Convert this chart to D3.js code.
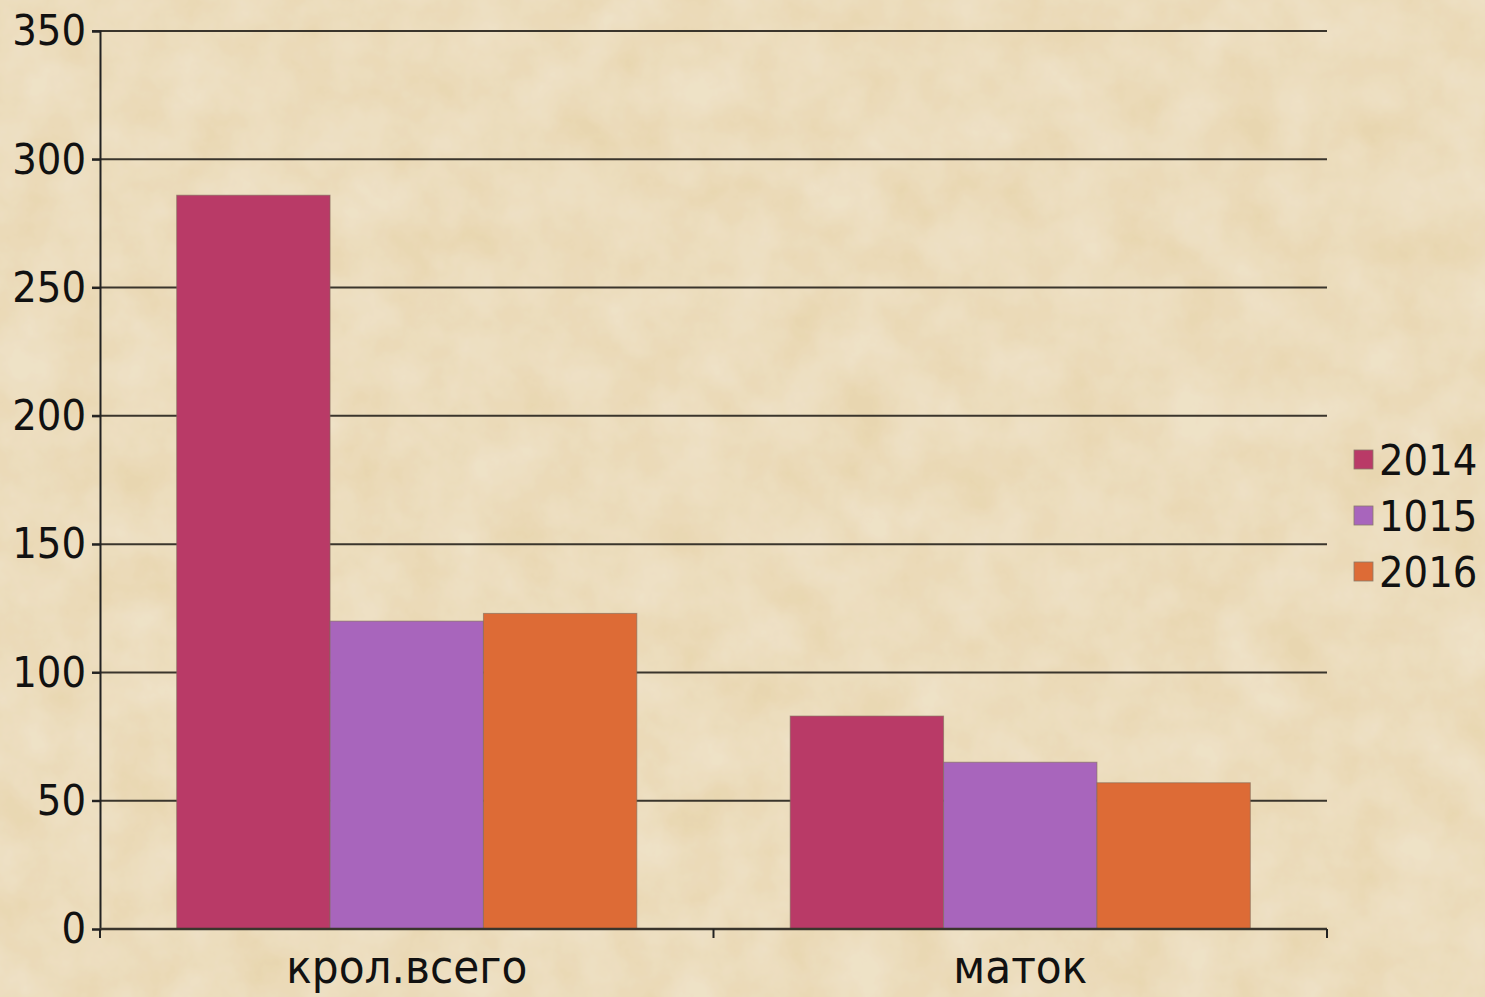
<!DOCTYPE html>
<html><head><meta charset="utf-8">
<script src="https://cdn.jsdelivr.net/npm/d3@7"></script>
<style>html,body{margin:0;padding:0;background:#ead9b6;overflow:hidden}</style>
</head><body>
<script>
const categories = ["крол.всего", "маток"];
const seriesNames = ["2014", "1015", "2016"];
const values2014 = [286, 83];
const values1015 = [120, 65];
const values2016 = [123, 57];
const yTicks = [0, 50, 100, 150, 200, 250, 300, 350];
const colors = ["#b93a67", "#a865bc", "#dd6b36"];

const W = 1485, H = 997;
const margin = {left: 100, right: 158, top: 31, bottom: 68};
const svg = d3.select("body").append("svg").attr("width", W).attr("height", H);
const defs = svg.append("defs");
const f = defs.append("filter").attr("id", "paper").attr("x", 0).attr("y", 0).attr("width", "100%").attr("height", "100%");
f.append("feTurbulence").attr("type", "fractalNoise").attr("baseFrequency", "0.018").attr("numOctaves", 5).attr("seed", 3).attr("result", "n");
f.append("feColorMatrix").attr("in", "n").attr("type", "matrix")
 .attr("values", "0 0 0 0 0.86  0 0 0 0 0.76  0 0 0 0 0.58  1.4 0 0 -0.35 0").attr("result", "c");
f.append("feComposite").attr("in", "c").attr("in2", "SourceGraphic").attr("operator", "over");
svg.append("rect").attr("width", W).attr("height", H).attr("fill", "#f0e2c4");
svg.append("rect").attr("width", W).attr("height", H).attr("fill", "#e6d2a8").attr("filter", "url(#paper)").attr("opacity", 0.7);

const x0 = d3.scaleBand().domain(categories).range([margin.left, W - margin.right]).paddingInner(0).paddingOuter(0);
const x1 = d3.scaleBand().domain(seriesNames).range([0, x0.bandwidth()]).paddingOuter(0.5).paddingInner(0);
const y = d3.scaleLinear().domain([0, 350]).range([H - margin.bottom, margin.top]);

const font = "'DejaVu Sans Condensed', 'DejaVu Sans', sans-serif";

// gridlines
svg.append("g").selectAll("line").data(yTicks.filter(d => d > 0)).join("line")
  .attr("x1", margin.left - 8).attr("x2", W - margin.right)
  .attr("y1", d => y(d)).attr("y2", d => y(d))
  .attr("stroke", "#3a352c").attr("stroke-width", 2);

const seriesVals = [values2014, values1015, values2016];
const g = svg.append("g");
categories.forEach((c, ci) => {
  seriesNames.forEach((s, si) => {
    const v = seriesVals[si][ci];
    g.append("rect")
      .attr("x", x0(c) + x1(s)).attr("y", y(v))
      .attr("width", x1.bandwidth()).attr("height", y(0) - y(v))
      .attr("fill", colors[si]).attr("stroke", "#7d6a5a").attr("stroke-width", 1).attr("stroke-opacity", 0.6);
  });
});

// y axis
const yAxis = d3.axisLeft(y).tickValues(yTicks).tickSize(8).tickPadding(4);
const ya = svg.append("g").attr("transform", `translate(${margin.left},0)`).call(yAxis);
ya.select(".domain").attr("stroke", "#222").attr("stroke-width", 2);
ya.selectAll(".tick line").attr("stroke", "#222").attr("stroke-width", 2);
ya.selectAll(".tick text").attr("font-family", font).attr("font-size", 43).attr("fill", "#111").attr("dx", -2);

// x axis
const xAxis = d3.axisBottom(x0).tickSize(0).tickPadding(21);
const xa = svg.append("g").attr("transform", `translate(0,${y(0)})`).call(xAxis);
xa.select(".domain").attr("stroke", "#3a352c").attr("stroke-width", 2.5).attr("d", `M${margin.left},0H${W - margin.right}`);
xa.selectAll(".tick text").attr("font-family", font).attr("font-size", 47).attr("fill", "#111");
const bounds = [margin.left, margin.left + x0.bandwidth(), W - margin.right];
xa.selectAll(".sep").data(bounds).join("line").attr("class", "sep")
  .attr("x1", d => d).attr("x2", d => d).attr("y1", 0).attr("y2", 9)
  .attr("stroke", "#222").attr("stroke-width", 2);

// legend
const lg = svg.append("g").attr("transform", "translate(1354,450)");
seriesNames.forEach((s, i) => {
  const row = lg.append("g").attr("transform", `translate(0,${i * 56})`);
  row.append("rect").attr("width", 19).attr("height", 19).attr("fill", colors[i]).attr("stroke", "#8a7a6a").attr("stroke-width", 0.8);
  row.append("text").attr("x", 25).attr("y", 10).attr("dy", "0.36em")
    .attr("font-family", font).attr("font-size", 43).attr("fill", "#111").text(s);
});
</script>
</body></html>
